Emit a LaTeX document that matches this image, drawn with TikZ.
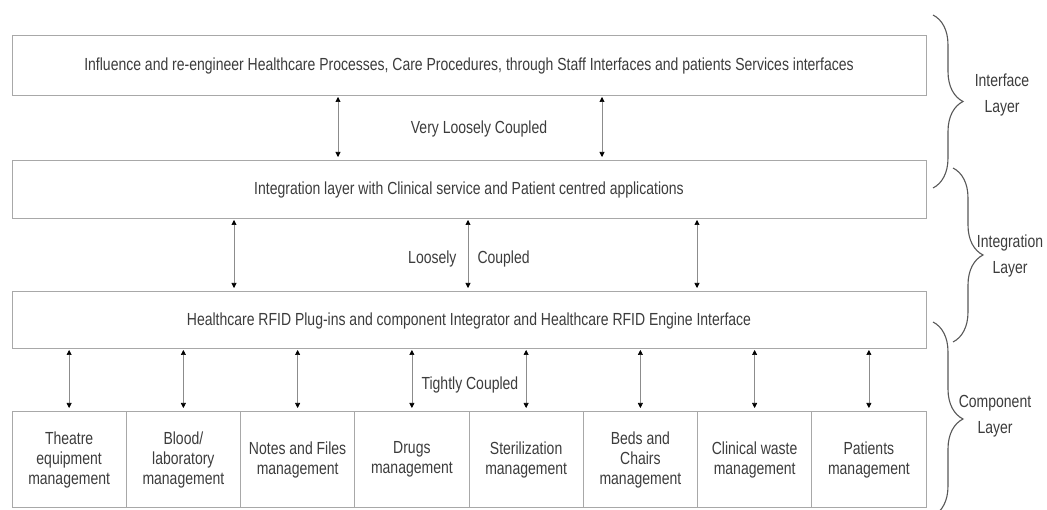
\documentclass[tikz,border=0pt]{standalone}
\usepackage{fontspec}
\setmainfont{Liberation Sans}[FakeStretch=0.8]
\usetikzlibrary{arrows.meta, decorations.pathreplacing}
\definecolor{txtgray}{HTML}{3C3C3C}
\definecolor{boxgray}{HTML}{A8A8A8}
\definecolor{linegray}{HTML}{8C8C8C}
\definecolor{bracegray}{HTML}{585858}
\newcommand\fsz{\fontsize{17.5}{20}\selectfont}
\newcommand\lsz{\fontsize{17.5}{26}\selectfont}

\begin{document}
\begin{tikzpicture}[x=1pt, y=-1pt,
        layer/.style={draw=boxgray, line width=1pt, minimum width=914pt,
                      inner sep=0pt, outer sep=0pt, text=txtgray, font=\fsz},
        comp/.style={draw=boxgray, line width=1pt, minimum width=114.25pt,
                     minimum height=95pt, inner sep=0pt, outer sep=0pt,
                     align=center, text=txtgray, font=\fsz},
        link/.style={draw=linegray, line width=0.6pt, shorten <=1pt, shorten >=4pt,
                     {Triangle[width=5pt,length=5pt,color=black]}-{Triangle[width=5pt,length=5pt,color=black]}},
        brc/.style={decorate, decoration={brace, amplitude=30pt},
                    draw=bracegray, line width=1.1pt},
        lbl/.style={text=txtgray, font=\fsz},
        side/.style={text=txtgray, font=\lsz, align=center},
    ]
    \useasboundingbox (0,0) rectangle (1047,510);

    % layers
    \node[layer, minimum height=60pt] (proc) at (469,66)
        {Influence and re-engineer Healthcare Processes, Care Procedures, through Staff Interfaces and patients Services interfaces};
    \node[layer, minimum height=58pt] (integ) at (469,190)
        {Integration layer with Clinical service and Patient centred applications};
    \node[layer, minimum height=57pt] (rfid) at (469,320.5)
        {Healthcare RFID Plug-ins and component Integrator and Healthcare RFID Engine Interface};

    % components
    \foreach \txt [count=\i] in {{Theatre\\equipment\\management},
                                 {Blood/\\laboratory\\management},
                                 {Notes and Files\\management},
                                 {Drugs\\management},
                                 {Sterilization\\management},
                                 {Beds and\\Chairs\\management},
                                 {Clinical waste\\management},
                                 {Patients\\management}}
        \node[comp] (c\i) at ({12+114.25*(\i-0.5)},459.5) {\txt};

    % couplings
    \draw[link] (proc.south -| 338,0) -- (integ.north -| 338,0);
    \draw[link] (proc.south -| 602,0) -- (integ.north -| 602,0);
    \node[lbl] (vlc) at (479,129) {Very Loosely Coupled};

    \draw[link] (integ.south -| 234,0) -- (rfid.north -| 234,0);
    \draw[link] (integ.south -| 468,0) -- (rfid.north -| 468,0);
    \draw[link] (integ.south -| 697,0) -- (rfid.north -| 697,0);
    \node[lbl, anchor=east] (lc1) at (460,259) {Loosely};
    \node[lbl, anchor=west] (lc2) at (474,259) {Coupled};

    \foreach \i in {1,...,8}
        \draw[link] (rfid.south -| c\i.north) -- (c\i.north);
    \node[lbl, anchor=west] (tc) at (418,385) {Tightly Coupled};

    % layer braces
    \coordinate (b1a) at (933,15);  \coordinate (b1b) at (933,188);
    \coordinate (b2a) at (953,168); \coordinate (b2b) at (953,342);
    \coordinate (b3a) at (933,322); \coordinate (b3b) at (933,516);
    \draw[brc] (b1a) -- (b1b);
    \draw[brc] (b2a) -- (b2b);
    \draw[brc] (b3a) -- (b3b);
    \node[side] (l1) at (1002,95) {Interface\\Layer};
    \node[side] (l2) at (1010,256) {Integration\\Layer};
    \node[side] (l3) at (995,416) {Component\\Layer};
\end{tikzpicture}
\end{document}
